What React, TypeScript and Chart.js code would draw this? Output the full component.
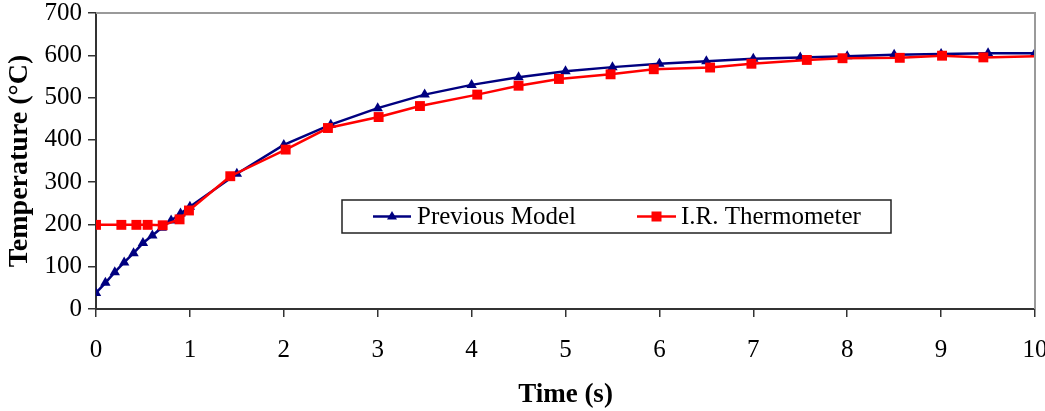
import React, { useEffect, useRef } from "react";
import { Chart, registerables } from "chart.js";

Chart.register(...registerables);

const modelTime = [0, 0.1, 0.2, 0.3, 0.4, 0.5, 0.6, 0.7, 0.8, 0.9, 1.0, 1.5, 2, 2.5, 3, 3.5, 4, 4.5, 5, 5.5, 6, 6.5, 7, 7.5, 8, 8.5, 9, 9.5, 10];
const modelTemp = [38, 62, 87, 110, 132, 156, 174, 192, 209, 226, 242, 320, 388, 436, 475, 507, 530, 548, 562, 572, 580, 586, 592, 595, 598, 601, 603, 605, 605];

const irTime = [0, 0.27, 0.43, 0.55, 0.71, 0.89, 0.99, 1.43, 2.02, 2.47, 3.01, 3.45, 4.06, 4.5, 4.93, 5.48, 5.94, 6.54, 6.98, 7.57, 7.95, 8.56, 9.01, 9.45, 10];
const irTemp = [199, 199, 199, 199, 198, 212, 233, 314, 377, 428, 454, 480, 507, 528, 544, 555, 567, 571, 580, 589, 593, 594, 599, 595, 598];

const seriesNames = ["Previous Model", "I.R. Thermometer"];
const xTitle = "Time (s)";
const yTitle = "Temperature (°C)";

const BLUE = "#000080";
const RED = "#FF0000";
const SERIF = "'Liberation Serif', 'Times New Roman', serif";

const legendPlugin = {
  id: "insideLegend",
  afterDraw(chart: any) {
    const ctx = chart.ctx;
    ctx.save();
    const a = chart.chartArea;
    ctx.strokeStyle = "#9a9a9a";
    ctx.lineWidth = 2;
    ctx.beginPath();
    ctx.moveTo(a.left, a.top);
    ctx.lineTo(a.right, a.top);
    ctx.lineTo(a.right, a.bottom);
    ctx.stroke();

    const bx = 342, by = 200, bw = 549, bh = 33;
    ctx.fillStyle = "#ffffff";
    ctx.fillRect(bx, by, bw, bh);
    ctx.strokeStyle = "#222";
    ctx.lineWidth = 1.5;
    ctx.strokeRect(bx, by, bw, bh);
    const cy = by + bh / 2;
    const items = [
      { x0: 373, x1: 411, color: BLUE, style: "triangle", tx: 417 },
      { x0: 637, x1: 676, color: RED, style: "rect", tx: 681 },
    ];
    items.forEach((it, i) => {
      ctx.strokeStyle = it.color;
      ctx.lineWidth = 2.5;
      ctx.beginPath();
      ctx.moveTo(it.x0, cy);
      ctx.lineTo(it.x1, cy);
      ctx.stroke();
      ctx.fillStyle = it.color;
      const mx = (it.x0 + it.x1) / 2;
      if (it.style === "rect") {
        ctx.fillRect(mx - 5, cy - 5, 10, 10);
      } else {
        ctx.beginPath();
        ctx.moveTo(mx, cy - 5.5);
        ctx.lineTo(mx + 5, cy + 3);
        ctx.lineTo(mx - 5, cy + 3);
        ctx.closePath();
        ctx.fill();
      }
      ctx.fillStyle = "#000";
      ctx.font = `25px ${SERIF}`;
      ctx.textBaseline = "middle";
      ctx.textAlign = "left";
      ctx.fillText(seriesNames[i], it.tx, cy + 1);
    });
    ctx.restore();
  },
};

export default function App() {
  const ref = useRef<HTMLCanvasElement | null>(null);
  useEffect(() => {
    if (!ref.current) return;
    const chart = new Chart(ref.current, {
      type: "scatter",
      data: {
        datasets: [
          {
            label: seriesNames[0],
            data: modelTime.map((t, i) => ({ x: t, y: modelTemp[i] })),
            showLine: true,
            borderColor: BLUE,
            backgroundColor: BLUE,
            borderWidth: 2.5,
            pointStyle: "triangle",
            pointRadius: 6,
            pointBorderWidth: 0,
            order: 1,
          },
          {
            label: seriesNames[1],
            data: irTime.map((t, i) => ({ x: t, y: irTemp[i] })),
            showLine: true,
            borderColor: RED,
            backgroundColor: RED,
            borderWidth: 2.5,
            pointStyle: "rect",
            pointRadius: (c: any) => (c.dataIndex === irTime.length - 1 ? 0 : 7),
            pointBorderWidth: 0,
            order: 0,
          },
        ],
      },
      options: {
        animation: false,
        responsive: false,
        maintainAspectRatio: false,
        devicePixelRatio: 1,
        layout: { padding: { top: 13, right: 10, left: 0, bottom: 0 } },
        plugins: { legend: { display: false }, tooltip: { enabled: false } },
        scales: {
          x: {
            type: "linear",
            min: 0,
            max: 10,
            ticks: {
              stepSize: 1,
              color: "#000",
              padding: 18,
              maxRotation: 0,
              font: { family: SERIF, size: 25 },
            },
            grid: { drawOnChartArea: false, tickLength: 8, color: "#333", lineWidth: 1.5 },
            border: { display: true, color: "#333", width: 2 },
            title: {
              display: true,
              text: xTitle,
              color: "#000",
              font: { family: SERIF, size: 27, weight: "bold", lineHeight: 1.2 },
              padding: { top: 0, bottom: 0 },
            },
            afterFit: (s: any) => {
              s.height = 102;
              s.paddingLeft = 0;
              s.paddingRight = 0;
            },
          },
          y: {
            type: "linear",
            min: 0,
            max: 700,
            ticks: {
              stepSize: 100,
              color: "#000",
              padding: 6,
              font: { family: SERIF, size: 25 },
            },
            grid: { drawOnChartArea: false, tickLength: 8, color: "#333", lineWidth: 1.5 },
            border: { display: true, color: "#333", width: 2 },
            title: {
              display: true,
              text: yTitle,
              color: "#000",
              font: { family: SERIF, size: 28, weight: "bold", lineHeight: 1.2 },
              padding: { top: 3, bottom: 0 },
            },
            afterFit: (s: any) => {
              s.width = 96;
              s.paddingTop = 0;
              s.paddingBottom = 0;
            },
          },
        },
      } as any,
      plugins: [legendPlugin],
    });
    return () => chart.destroy();
  }, []);
  return (
    <div style={{ position: "fixed", left: 0, top: 0, width: 1045, height: 411, background: "#fff" }}>
      <canvas ref={ref} width={1045} height={411} style={{ width: 1045, height: 411 }} />
    </div>
  );
}
